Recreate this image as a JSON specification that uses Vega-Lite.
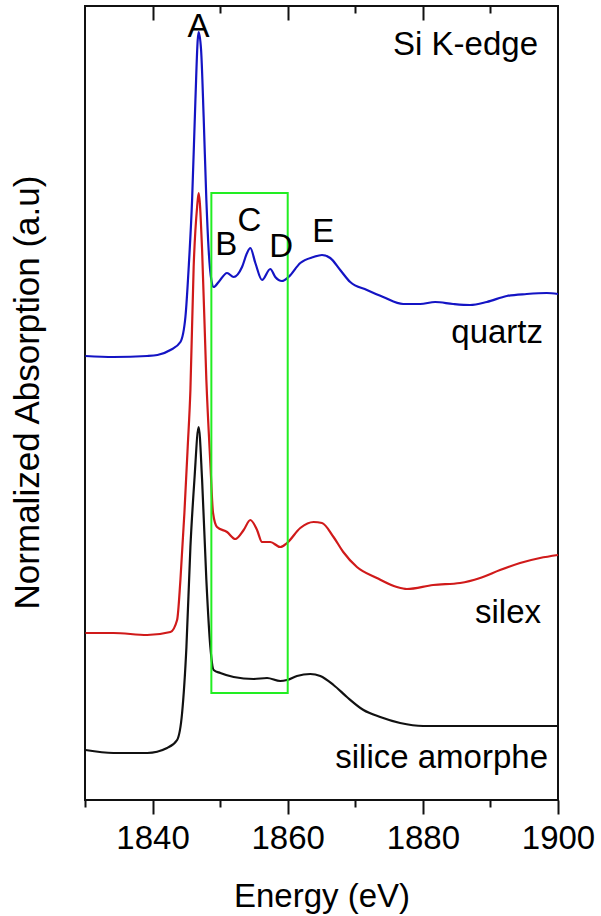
{
  "$schema": "https://vega.github.io/schema/vega-lite/v6.json",
  "autosize": "none",
  "padding": {"left": 85, "top": 6, "right": 43, "bottom": 116},
  "width": 473,
  "height": 794,
  "background": "white",
  "config": {
    "font": "Liberation Sans",
    "view": {"stroke": "#111", "strokeWidth": 2},
    "axis": {"labelColor": "#000", "titleColor": "#000", "tickColor": "#111", "tickWidth": 2, "domain": false, "grid": false}
  },
  "datasets": {
    "spectra": [
      {"energy": 1830.07, "absorption": 4.44, "sample": "quartz"},
      {"energy": 1834.21, "absorption": 4.43, "sample": "quartz"},
      {"energy": 1839.2, "absorption": 4.44, "sample": "quartz"},
      {"energy": 1840.72, "absorption": 4.45, "sample": "quartz"},
      {"energy": 1842.64, "absorption": 4.5, "sample": "quartz"},
      {"energy": 1844.12, "absorption": 4.58, "sample": "quartz"},
      {"energy": 1844.86, "absorption": 4.83, "sample": "quartz"},
      {"energy": 1845.35, "absorption": 5.33, "sample": "quartz"},
      {"energy": 1845.85, "absorption": 6.0, "sample": "quartz"},
      {"energy": 1846.34, "absorption": 7.0, "sample": "quartz"},
      {"energy": 1846.68, "absorption": 7.6, "sample": "quartz"},
      {"energy": 1846.82, "absorption": 7.68, "sample": "quartz"},
      {"energy": 1847.18, "absorption": 7.5, "sample": "quartz"},
      {"energy": 1847.56, "absorption": 6.83, "sample": "quartz"},
      {"energy": 1847.96, "absorption": 6.0, "sample": "quartz"},
      {"energy": 1848.3, "absorption": 5.5, "sample": "quartz"},
      {"energy": 1848.7, "absorption": 5.2, "sample": "quartz"},
      {"energy": 1849.04, "absorption": 5.13, "sample": "quartz"},
      {"energy": 1849.78, "absorption": 5.18, "sample": "quartz"},
      {"energy": 1851.02, "absorption": 5.27, "sample": "quartz"},
      {"energy": 1852.0, "absorption": 5.23, "sample": "quartz"},
      {"energy": 1853.24, "absorption": 5.33, "sample": "quartz"},
      {"energy": 1853.98, "absorption": 5.47, "sample": "quartz"},
      {"energy": 1854.47, "absorption": 5.52, "sample": "quartz"},
      {"energy": 1855.21, "absorption": 5.37, "sample": "quartz"},
      {"energy": 1856.2, "absorption": 5.2, "sample": "quartz"},
      {"energy": 1857.42, "absorption": 5.31, "sample": "quartz"},
      {"energy": 1858.16, "absorption": 5.23, "sample": "quartz"},
      {"energy": 1859.15, "absorption": 5.19, "sample": "quartz"},
      {"energy": 1860.13, "absorption": 5.23, "sample": "quartz"},
      {"energy": 1861.86, "absorption": 5.37, "sample": "quartz"},
      {"energy": 1863.83, "absorption": 5.43, "sample": "quartz"},
      {"energy": 1865.07, "absorption": 5.45, "sample": "quartz"},
      {"energy": 1866.29, "absorption": 5.42, "sample": "quartz"},
      {"energy": 1867.77, "absorption": 5.3, "sample": "quartz"},
      {"energy": 1869.25, "absorption": 5.18, "sample": "quartz"},
      {"energy": 1871.72, "absorption": 5.1, "sample": "quartz"},
      {"energy": 1874.13, "absorption": 5.03, "sample": "quartz"},
      {"energy": 1877.09, "absorption": 4.96, "sample": "quartz"},
      {"energy": 1879.6, "absorption": 4.96, "sample": "quartz"},
      {"energy": 1881.82, "absorption": 4.98, "sample": "quartz"},
      {"energy": 1884.48, "absorption": 4.96, "sample": "quartz"},
      {"energy": 1886.99, "absorption": 4.95, "sample": "quartz"},
      {"energy": 1889.46, "absorption": 4.98, "sample": "quartz"},
      {"energy": 1892.42, "absorption": 5.04, "sample": "quartz"},
      {"energy": 1895.37, "absorption": 5.06, "sample": "quartz"},
      {"energy": 1898.33, "absorption": 5.07, "sample": "quartz"},
      {"energy": 1900.0, "absorption": 5.06, "sample": "quartz"},

      {"energy": 1830.07, "absorption": 1.67, "sample": "silex"},
      {"energy": 1834.21, "absorption": 1.67, "sample": "silex"},
      {"energy": 1839.2, "absorption": 1.65, "sample": "silex"},
      {"energy": 1842.64, "absorption": 1.68, "sample": "silex"},
      {"energy": 1843.63, "absorption": 1.8, "sample": "silex"},
      {"energy": 1844.12, "absorption": 2.2, "sample": "silex"},
      {"energy": 1844.71, "absorption": 2.87, "sample": "silex"},
      {"energy": 1845.2, "absorption": 3.53, "sample": "silex"},
      {"energy": 1845.6, "absorption": 4.1, "sample": "silex"},
      {"energy": 1846.08, "absorption": 5.33, "sample": "silex"},
      {"energy": 1846.59, "absorption": 5.93, "sample": "silex"},
      {"energy": 1846.82, "absorption": 6.07, "sample": "silex"},
      {"energy": 1847.33, "absorption": 5.5, "sample": "silex"},
      {"energy": 1847.96, "absorption": 4.2, "sample": "silex"},
      {"energy": 1848.55, "absorption": 3.37, "sample": "silex"},
      {"energy": 1848.95, "absorption": 2.87, "sample": "silex"},
      {"energy": 1849.54, "absorption": 2.73, "sample": "silex"},
      {"energy": 1851.02, "absorption": 2.68, "sample": "silex"},
      {"energy": 1852.25, "absorption": 2.61, "sample": "silex"},
      {"energy": 1853.48, "absorption": 2.7, "sample": "silex"},
      {"energy": 1854.47, "absorption": 2.8, "sample": "silex"},
      {"energy": 1855.46, "absorption": 2.7, "sample": "silex"},
      {"energy": 1856.2, "absorption": 2.58, "sample": "silex"},
      {"energy": 1857.42, "absorption": 2.58, "sample": "silex"},
      {"energy": 1858.9, "absorption": 2.53, "sample": "silex"},
      {"energy": 1859.89, "absorption": 2.57, "sample": "silex"},
      {"energy": 1861.86, "absorption": 2.72, "sample": "silex"},
      {"energy": 1863.83, "absorption": 2.78, "sample": "silex"},
      {"energy": 1865.07, "absorption": 2.77, "sample": "silex"},
      {"energy": 1866.78, "absorption": 2.63, "sample": "silex"},
      {"energy": 1868.22, "absorption": 2.48, "sample": "silex"},
      {"energy": 1870.24, "absorption": 2.33, "sample": "silex"},
      {"energy": 1873.2, "absorption": 2.22, "sample": "silex"},
      {"energy": 1876.15, "absorption": 2.13, "sample": "silex"},
      {"energy": 1877.63, "absorption": 2.11, "sample": "silex"},
      {"energy": 1881.52, "absorption": 2.15, "sample": "silex"},
      {"energy": 1885.51, "absorption": 2.17, "sample": "silex"},
      {"energy": 1888.47, "absorption": 2.22, "sample": "silex"},
      {"energy": 1891.42, "absorption": 2.3, "sample": "silex"},
      {"energy": 1894.38, "absorption": 2.37, "sample": "silex"},
      {"energy": 1897.34, "absorption": 2.42, "sample": "silex"},
      {"energy": 1900.0, "absorption": 2.45, "sample": "silex"},

      {"energy": 1830.07, "absorption": 0.5, "sample": "silice amorphe"},
      {"energy": 1834.21, "absorption": 0.47, "sample": "silice amorphe"},
      {"energy": 1839.2, "absorption": 0.47, "sample": "silice amorphe"},
      {"energy": 1842.15, "absorption": 0.52, "sample": "silice amorphe"},
      {"energy": 1843.63, "absorption": 0.6, "sample": "silice amorphe"},
      {"energy": 1844.37, "absorption": 0.87, "sample": "silice amorphe"},
      {"energy": 1845.01, "absorption": 1.53, "sample": "silice amorphe"},
      {"energy": 1845.6, "absorption": 2.53, "sample": "silice amorphe"},
      {"energy": 1846.19, "absorption": 3.2, "sample": "silice amorphe"},
      {"energy": 1846.82, "absorption": 3.73, "sample": "silice amorphe"},
      {"energy": 1847.33, "absorption": 3.2, "sample": "silice amorphe"},
      {"energy": 1847.96, "absorption": 2.2, "sample": "silice amorphe"},
      {"energy": 1848.55, "absorption": 1.53, "sample": "silice amorphe"},
      {"energy": 1849.04, "absorption": 1.3, "sample": "silice amorphe"},
      {"energy": 1850.03, "absorption": 1.27, "sample": "silice amorphe"},
      {"energy": 1852.0, "absorption": 1.23, "sample": "silice amorphe"},
      {"energy": 1854.95, "absorption": 1.21, "sample": "silice amorphe"},
      {"energy": 1856.94, "absorption": 1.22, "sample": "silice amorphe"},
      {"energy": 1858.9, "absorption": 1.19, "sample": "silice amorphe"},
      {"energy": 1859.89, "absorption": 1.2, "sample": "silice amorphe"},
      {"energy": 1861.37, "absorption": 1.24, "sample": "silice amorphe"},
      {"energy": 1863.34, "absorption": 1.26, "sample": "silice amorphe"},
      {"energy": 1864.82, "absorption": 1.24, "sample": "silice amorphe"},
      {"energy": 1866.78, "absorption": 1.15, "sample": "silice amorphe"},
      {"energy": 1868.76, "absorption": 1.03, "sample": "silice amorphe"},
      {"energy": 1871.21, "absorption": 0.9, "sample": "silice amorphe"},
      {"energy": 1873.69, "absorption": 0.83, "sample": "silice amorphe"},
      {"energy": 1876.64, "absorption": 0.77, "sample": "silice amorphe"},
      {"energy": 1880.04, "absorption": 0.74, "sample": "silice amorphe"},
      {"energy": 1884.04, "absorption": 0.74, "sample": "silice amorphe"},
      {"energy": 1888.91, "absorption": 0.74, "sample": "silice amorphe"},
      {"energy": 1893.89, "absorption": 0.74, "sample": "silice amorphe"},
      {"energy": 1900.0, "absorption": 0.74, "sample": "silice amorphe"}
    ],
    "box": [
      {"e0": 1848.7, "e1": 1860.0, "a0": 1.07, "a1": 6.07}
    ],
    "peaks": [
      {"energy": 1846.78, "absorption": 7.63, "label": "A"},
      {"energy": 1850.92, "absorption": 5.45, "label": "B"},
      {"energy": 1854.32, "absorption": 5.69, "label": "C"},
      {"energy": 1859.05, "absorption": 5.43, "label": "D"},
      {"energy": 1865.26, "absorption": 5.58, "label": "E"}
    ],
    "names": [
      {"energy": 1897.04, "absorption": 7.45, "label": "Si K-edge"},
      {"energy": 1897.78, "absorption": 4.57, "label": "quartz"},
      {"energy": 1897.49, "absorption": 1.77, "label": "silex"},
      {"energy": 1898.52, "absorption": 0.32, "label": "silice amorphe"}
    ]
  },
  "resolve": {"axis": {"x": "independent", "y": "independent"}},
  "layer": [
    {
      "data": {"name": "spectra"},
      "mark": {"type": "line", "strokeWidth": 2.2, "interpolate": "monotone"},
      "encoding": {
        "x": {
          "field": "energy", "type": "quantitative",
          "scale": {"domain": [1830, 1900], "nice": false, "zero": false},
          "axis": {
            "orient": "bottom", "values": [1840, 1860, 1880, 1900], "format": "d",
            "labelFlush": false, "labelOverlap": false,
            "tickSize": 14, "labelFontSize": 33, "labelPadding": 8,
            "title": "Energy (eV)", "titleFontSize": 33, "titleFontWeight": "normal", "titlePadding": 25
          }
        },
        "y": {
          "field": "absorption", "type": "quantitative",
          "scale": {"domain": [0, 7.94], "nice": false, "zero": false},
          "axis": {
            "orient": "left", "ticks": false, "labels": false,
            "title": "Normalized Absorption (a.u)", "titleFontSize": 35, "titleFontWeight": "normal",
            "titlePadding": 40, "titleY": 386
          }
        },
        "color": {
          "field": "sample", "type": "nominal",
          "scale": {"domain": ["quartz", "silex", "silice amorphe"], "range": ["#1414c4", "#d01a1a", "#111111"]},
          "legend": null
        },
        "order": {"field": "energy", "type": "quantitative"}
      }
    },
    {
      "data": {"name": "box"},
      "mark": {"type": "rect", "filled": false, "stroke": "#22ee22", "strokeWidth": 2},
      "encoding": {
        "x": {
          "field": "e0", "type": "quantitative",
          "axis": {"orient": "bottom", "values": [1830, 1850, 1870, 1890], "tickSize": 7, "labels": false, "title": null}
        },
        "x2": {"field": "e1"},
        "y": {"field": "a0", "type": "quantitative", "axis": null},
        "y2": {"field": "a1"}
      }
    },
    {
      "data": {"name": "peaks"},
      "mark": {"type": "text", "fontSize": 33, "align": "center", "baseline": "alphabetic", "color": "#000"},
      "encoding": {
        "x": {
          "field": "energy", "type": "quantitative",
          "axis": {"orient": "top", "values": [1840, 1860, 1880], "tickSize": -14, "labels": false, "title": null}
        },
        "y": {"field": "absorption", "type": "quantitative", "axis": null},
        "text": {"field": "label"}
      }
    },
    {
      "data": {"name": "names"},
      "mark": {"type": "text", "fontSize": 33, "align": "right", "baseline": "alphabetic", "color": "#000"},
      "encoding": {
        "x": {
          "field": "energy", "type": "quantitative",
          "axis": {"orient": "top", "values": [1850, 1870, 1890], "tickSize": -7, "labels": false, "title": null}
        },
        "y": {"field": "absorption", "type": "quantitative", "axis": null},
        "text": {"field": "label"}
      }
    }
  ]
}
